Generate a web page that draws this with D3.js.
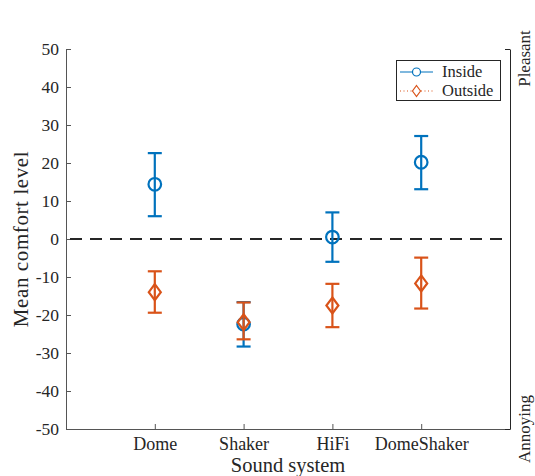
<!DOCTYPE html>
<html><head><meta charset="utf-8">
<script src="https://cdn.jsdelivr.net/npm/d3@7"></script>
<style>body{margin:0;background:#fff}svg{display:block;font-family:"Liberation Serif","Times New Roman",serif}</style>
</head><body><svg id="c" width="535" height="476"></svg>
<script>
const categories = ["Dome","Shaker","HiFi","DomeShaker"];
const insideMean  = [14.4, -22.4, 0.5, 20.2];
const insideLow   = [6.0, -28.3, -6.0, 13.1];
const insideHigh  = [22.6, -16.6, 7.0, 27.1];
const outsideMean = [-14.0, -21.9, -17.5, -11.7];
const outsideLow  = [-19.4, -26.4, -23.2, -18.3];
const outsideHigh = [-8.5, -16.7, -11.8, -4.9];
const yTicks = [50,40,30,20,10,0,-10,-20,-30,-40,-50];
const seriesNames = ["Inside","Outside"];

const blue = "#0072BD", orange = "#D95319", ink = "#262626";
const svg = d3.select("#c");
const x = d3.scaleLinear().domain([0,5]).range([66,510]);
const y = d3.scaleLinear().domain([-50,50]).range([429,49]);

// axes
const axL = svg.append("g").attr("transform","translate(66,0)")
  .call(d3.axisLeft(y).tickValues(yTicks).tickSizeInner(-5).tickSizeOuter(0).tickPadding(7).tickFormat(d=>String(d)));
axL.attr("font-family",null).attr("font-size",null);
axL.select(".domain").attr("stroke","#555");
axL.selectAll(".tick line").attr("stroke","#555");
axL.selectAll("text").attr("font-size",17.5).attr("fill",ink);

const axB = svg.append("g").attr("transform","translate(0,429)")
  .call(d3.axisBottom(x).tickValues([1,2,3,4]).tickSizeInner(-5).tickSizeOuter(0).tickPadding(8).tickFormat(i=>categories[i-1]));
axB.attr("font-family",null).attr("font-size",null);
axB.select(".domain").attr("stroke","#555");
axB.selectAll(".tick line").attr("stroke","#555");
axB.selectAll("text").attr("font-size",18).attr("fill",ink);

const axR = svg.append("g").attr("transform","translate(510,0)")
  .call(d3.axisRight(y).tickValues([50,-50]).tickSizeInner(-5).tickSizeOuter(0).tickFormat(""));
axR.select(".domain").attr("stroke",ink);
axR.selectAll(".tick line").attr("stroke",ink);

// right labels
svg.append("text").attr("transform",`translate(530,${y(47.5)}) rotate(-90)`).attr("text-anchor","middle")
  .attr("font-size",17).attr("fill",ink).text("Pleasant");
svg.append("text").attr("transform",`translate(530,${y(-50)}) rotate(-90)`).attr("text-anchor","middle")
  .attr("font-size",17).attr("fill",ink).text("Annoying");

// axis titles
svg.append("text").attr("transform",`translate(28,${y(0)}) rotate(-90)`).attr("text-anchor","middle")
  .attr("font-size",21).attr("letter-spacing",0.6).attr("fill",ink).text("Mean comfort level");
svg.append("text").attr("x",(x(0)+x(5))/2).attr("y",472).attr("text-anchor","middle")
  .attr("font-size",20.5).attr("fill",ink).text("Sound system");

// zero line
svg.append("line").attr("x1",x(0)).attr("x2",x(5)).attr("y1",y(0)).attr("y2",y(0))
  .attr("stroke",ink).attr("stroke-width",2).attr("stroke-dasharray","12,8").attr("stroke-dashoffset",-4);

function drawSeries(mean, lo, hi, color, marker){
  const g = svg.append("g").attr("stroke",color).attr("stroke-width",2.2).attr("fill","none");
  categories.forEach((c,i)=>{
    const cx = x(i+1);
    g.append("line").attr("x1",cx).attr("x2",cx).attr("y1",y(lo[i])).attr("y2",y(hi[i]));
    g.append("line").attr("x1",cx-7).attr("x2",cx+7).attr("y1",y(lo[i])).attr("y2",y(lo[i]));
    g.append("line").attr("x1",cx-7).attr("x2",cx+7).attr("y1",y(hi[i])).attr("y2",y(hi[i]));
    marker(g, cx, y(mean[i]));
  });
}
const circ = (g,cx,cy)=>g.append("circle").attr("cx",cx).attr("cy",cy).attr("r",6.3);
const diam = (g,cx,cy)=>g.append("path").attr("d",`M${cx},${cy-8}L${cx+6},${cy}L${cx},${cy+8}L${cx-6},${cy}Z`);
drawSeries(insideMean, insideLow, insideHigh, blue, circ);
drawSeries(outsideMean, outsideLow, outsideHigh, orange, diam);

// legend
const lg = svg.append("g");
lg.append("rect").attr("x",396.5).attr("y",60.5).attr("width",104).attr("height",40).attr("fill","#fff").attr("stroke",ink).attr("stroke-width",1);
const ly = [72, 91];
lg.append("line").attr("x1",400).attr("x2",433).attr("y1",ly[0]).attr("y2",ly[0]).attr("stroke",blue).attr("stroke-width",1.2);
lg.append("circle").attr("cx",416.5).attr("cy",ly[0]).attr("r",4).attr("fill","#fff").attr("stroke",blue).attr("stroke-width",1.2);
lg.append("line").attr("x1",400).attr("x2",433).attr("y1",ly[1]).attr("y2",ly[1]).attr("stroke",orange).attr("stroke-width",1.2).attr("stroke-dasharray","1,2.5");
lg.append("path").attr("d",`M416.5,${ly[1]-5.5}L420.5,${ly[1]}L416.5,${ly[1]+5.5}L412.5,${ly[1]}Z`).attr("fill","#fff").attr("stroke",orange).attr("stroke-width",1.2);
seriesNames.forEach((n,i)=>lg.append("text").attr("x",442).attr("y",ly[i]+5).attr("font-size",16.5).attr("fill",ink).text(n));
</script></body></html>
